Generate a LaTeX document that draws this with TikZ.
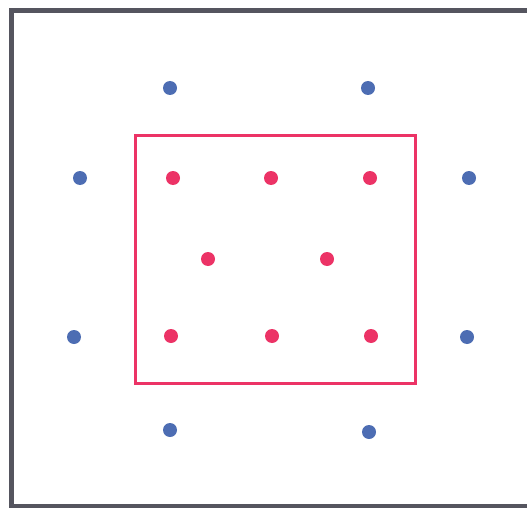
\documentclass[tikz,border=0pt]{standalone}
\usetikzlibrary{positioning}

\definecolor{framegray}{HTML}{55555F}
\definecolor{latred}{HTML}{EC3366}
\definecolor{latblue}{HTML}{4D6DB3}

\begin{document}
\begin{tikzpicture}[
  x=1pt, y=-1pt,
  dot/.style={circle, inner sep=0pt, minimum size=14pt},
  reddot/.style={dot, fill=latred},
  bluedot/.style={dot, fill=latblue},
  cell/.style={draw=latred, line width=3pt}
]
\useasboundingbox (0,0) rectangle (527,508);

% outer frame
\draw[framegray, line width=5pt] (531,11) -- (11,11) -- (11,506) -- (531,506);

% unit cell
\node[cell, minimum width=280pt, minimum height=248pt, inner sep=0pt] (box) at (275,259) {};

% inner points
\node[reddot] (r11) at (173,178) {};
\node[reddot] (r12) at (271,178) {};
\node[reddot] (r13) at (370,178) {};
\node[reddot] (r21) at (208,259) {};
\node[reddot] (r22) at (327,259) {};
\node[reddot] (r31) at (171,336) {};
\node[reddot] (r32) at (272,336) {};
\node[reddot] (r33) at (371,336) {};

% outer points
\node[bluedot] (b1) at (170,88) {};
\node[bluedot] (b2) at (368,88) {};
\node[bluedot] (b3) at (80,178) {};
\node[bluedot] (b4) at (469,178) {};
\node[bluedot] (b5) at (74,337) {};
\node[bluedot] (b6) at (467,337) {};
\node[bluedot] (b7) at (170,430) {};
\node[bluedot] (b8) at (369,432) {};

\end{tikzpicture}
\end{document}
